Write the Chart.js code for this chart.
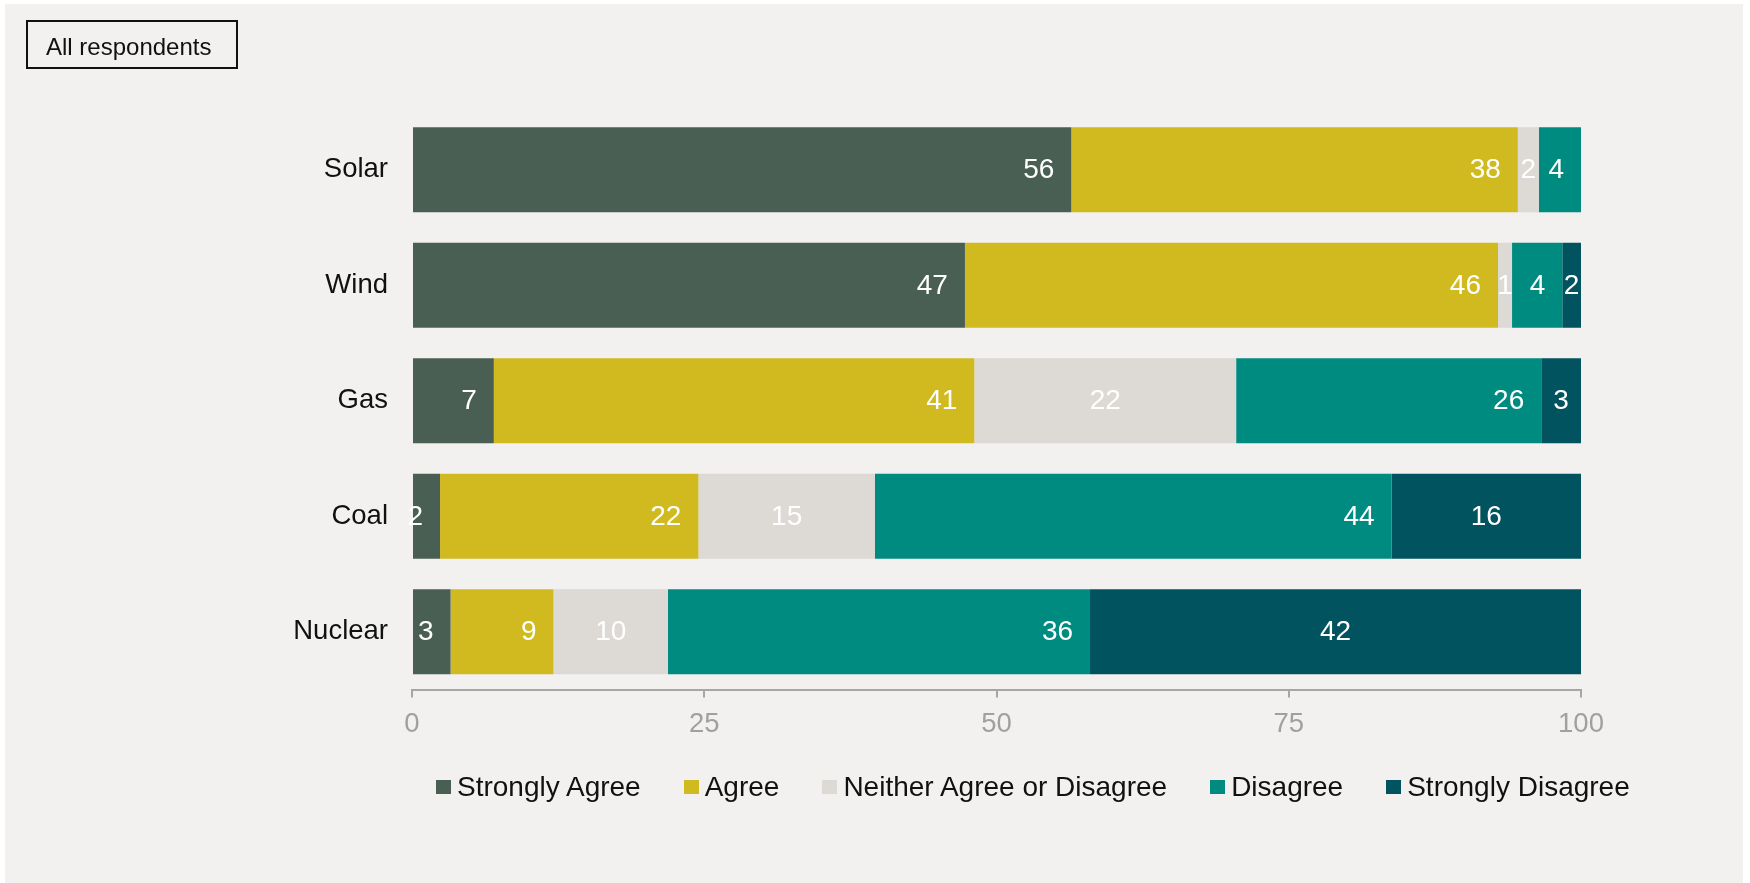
<!DOCTYPE html>
<html>
<head>
<meta charset="utf-8">
<script src="https://cdn.jsdelivr.net/npm/chart.js@4/dist/chart.umd.min.js"></script>
<style>
  body { margin: 0; background: #fff; font-family: "Liberation Sans", Arial, sans-serif; }
  #panel { position: absolute; left: 5px; top: 4px; width: 1738px; height: 879px; background: #f2f1ef; }
  #chart { position: absolute; left: 0; top: 0; }
  #tag {
    position: absolute; left: 21px; top: 16px; width: 212px; height: 49px;
    box-sizing: border-box; border: 2px solid #111; padding: 2px 0 0 18px;
    font-size: 24px; line-height: 45px; color: #111;
  }
  #legend { position: absolute; left: 431px; top: 768px; height: 30px; display: flex; align-items: center; gap: 43px; }
  .item { display: flex; align-items: center; font-size: 28px; line-height: 30px; color: #111; }
  .swatch { width: 15px; height: 14px; margin-right: 6px; }
</style>
</head>
<body>
<div id="panel">
  <canvas id="chart" width="1738" height="879"></canvas>
  <div id="tag">All respondents</div>
  <div id="legend"></div>
</div>
<script>
// Energy sources (top to bottom)
const sources = ["Solar", "Wind", "Gas", "Coal", "Nuclear"];

// Share of respondents, % (printed labels are these rounded)
const stronglyAgree    = [56.4, 47.3, 7.0, 2.4, 3.3];
const agree            = [38.2, 45.6, 41.1, 22.1, 8.8];
const neither          = [1.8, 1.2, 22.4, 15.1, 9.8];
const disagree         = [3.6, 4.3, 26.1, 44.2, 36.1];
const stronglyDisagree = [0, 1.6, 3.4, 16.2, 42.0];

const seriesNames  = ["Strongly Agree", "Agree", "Neither Agree or Disagree", "Disagree", "Strongly Disagree"];
const seriesColors = ["#4a5f53", "#d1ba1f", "#ddd9d5", "#008b80", "#01535f"];
const xTicks = [0, 25, 50, 75, 100];

// labels of these series sit in the middle of the segment, others at its end
const centeredSeries = [2, 4];

const allSeries = [stronglyAgree, agree, neither, disagree, stronglyDisagree];

const valueLabels = {
    id: "valueLabels",
    afterDatasetsDraw(chart) {
        const ctx = chart.ctx;
        ctx.save();
        ctx.font = "28px 'Liberation Sans', Arial, sans-serif";
        ctx.fillStyle = "#ffffff";
        ctx.textBaseline = "middle";
        chart.data.datasets.forEach((ds, i) => {
            chart.getDatasetMeta(i).data.forEach((bar, j) => {
                const v = ds.data[j];
                if (!v) return;
                const txt = String(Math.round(v));
                if (centeredSeries.includes(i)) {
                    ctx.textAlign = "center";
                    ctx.fillText(txt, (bar.x + bar.base) / 2, bar.y + 1);
                } else {
                    ctx.textAlign = "right";
                    ctx.fillText(txt, bar.x - 17, bar.y + 1);
                }
            });
        });
        ctx.restore();
    }
};

const chart = new Chart(document.getElementById("chart"), {
    type: "bar",
    data: {
        labels: sources,
        datasets: allSeries.map((d, i) => ({
            label: seriesNames[i],
            data: d,
            backgroundColor: seriesColors[i],
            borderWidth: 0,
            barPercentage: 0.736,
            categoryPercentage: 1
        }))
    },
    options: {
        indexAxis: "y",
        responsive: false,
        animation: false,
        layout: { padding: { top: 108, right: 162, bottom: 133.5, left: 0 } },
        scales: {
            x: {
                stacked: true,
                min: 0,
                max: 100,
                afterBuildTicks: (scale) => { scale.ticks = xTicks.map(v => ({ value: v })); },
                afterFit: (scale) => { scale.height = 60; },
                border: { display: true, color: "#a6a6a6", width: 2 },
                grid: { drawOnChartArea: false, drawTicks: true, tickLength: 8, color: "#a6a6a6", lineWidth: 2 },
                ticks: { color: "#a0a0a0", padding: 10, font: { family: "'Liberation Sans', Arial, sans-serif", size: 27.5 } }
            },
            y: {
                stacked: true,
                afterFit: (scale) => { scale.width = 407; },
                border: { display: false },
                grid: { display: false, drawTicks: false },
                ticks: { color: "#111", padding: 24, font: { family: "'Liberation Sans', Arial, sans-serif", size: 27.5 } }
            }
        },
        plugins: {
            legend: { display: false },
            tooltip: { enabled: false }
        }
    },
    plugins: [valueLabels]
});

// legend built from the same series arrays
const legendEl = document.getElementById("legend");
seriesNames.forEach((name, i) => {
    const item = document.createElement("div");
    item.className = "item";
    const sw = document.createElement("span");
    sw.className = "swatch";
    sw.style.background = seriesColors[i];
    item.appendChild(sw);
    item.appendChild(document.createTextNode(name));
    legendEl.appendChild(item);
});
</script>
</body>
</html>
